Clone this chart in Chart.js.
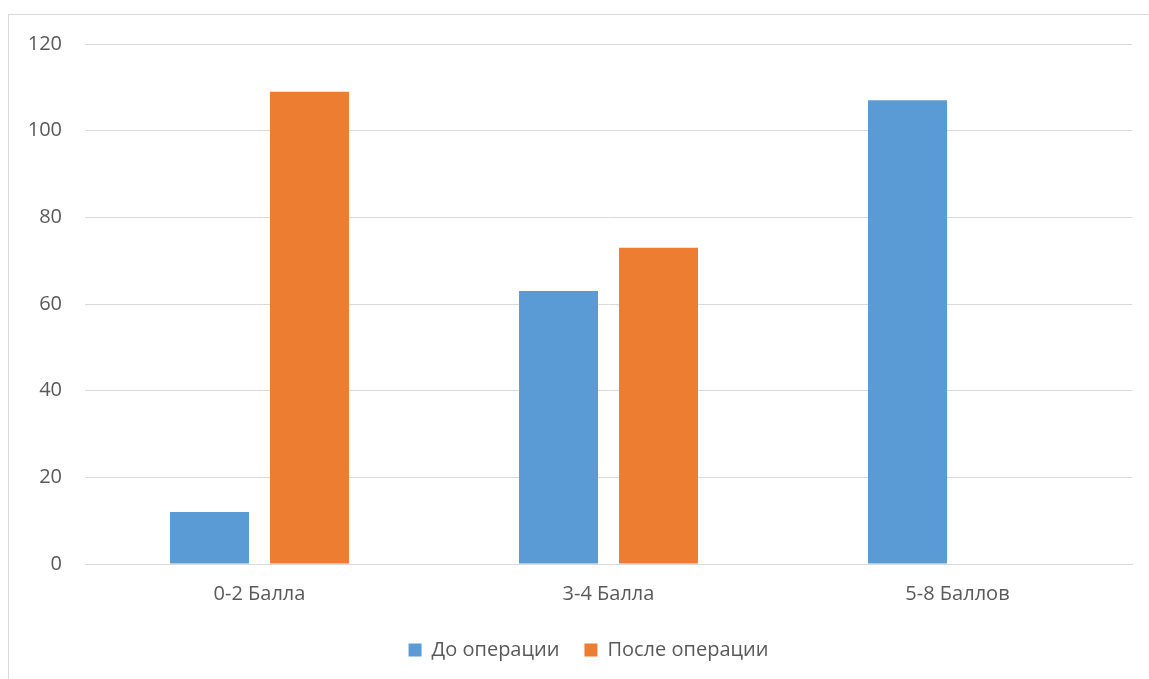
<!DOCTYPE html>
<html>
<head>
<meta charset="utf-8">
<script src="https://cdn.jsdelivr.net/npm/chart.js@4"></script>
<style>
  html, body { margin: 0; padding: 0; background: #fff; overflow: hidden; }
  #frame { position: absolute; left: 8px; top: 14px; width: 1200px; height: 700px; border: 1px solid #d9d9d9; }
  /* canvas is a bit wider than the window so the legend centres where the original does */
  #wrap { position: absolute; left: 0; top: 0; width: 1177px; height: 679px; }
</style>
</head>
<body>
<div id="frame"></div>
<div id="wrap"><canvas id="chart"></canvas></div>
<script>
// categories and series values
const categories = ['0-2 Балла', '3-4 Балла', '5-8 Баллов'];
const beforeSurgery = [12, 63, 107];
const afterSurgery = [109, 73, 0];
const seriesNames = ['До операции', 'После операции'];
const yTicks = [0, 20, 40, 60, 80, 100, 120];

const textColor = '#595959';
const gridColor = '#d9d9d9';
const font = { family: '"Open Sans", sans-serif', size: 20 };

new Chart(document.getElementById('chart'), {
  type: 'bar',
  data: {
    labels: categories,
    datasets: [
      { label: seriesNames[0], data: beforeSurgery, backgroundColor: '#5B9BD5' },
      { label: seriesNames[1], data: afterSurgery, backgroundColor: '#ED7D31' }
    ]
  },
  options: {
    responsive: true,
    maintainAspectRatio: false,
    animation: false,
    categoryPercentage: 0.573,
    barPercentage: 0.79,
    layout: { padding: { left: 0, right: 0, top: 44, bottom: 9 } },
    scales: {
      x: {
        grid: { display: false, drawTicks: false },
        border: { color: gridColor },
        ticks: { color: textColor, font: font, padding: 18 },
        afterFit: function(scale) { scale.height = 51; }
      },
      y: {
        min: yTicks[0],
        max: yTicks[yTicks.length - 1],
        ticks: { stepSize: 20, color: textColor, font: font, padding: 23 },
        grid: { color: gridColor, drawTicks: false },
        border: { display: false },
        afterFit: function(scale) { scale.width = 85; }
      },
      // empty right-hand spacer so the plot ends where the original does
      spacer: {
        position: 'right',
        grid: { display: false, drawTicks: false },
        border: { display: false },
        ticks: { display: false },
        afterFit: function(scale) { scale.width = 45; }
      }
    },
    plugins: {
      legend: {
        position: 'bottom',
        labels: { boxWidth: 13, boxHeight: 13, padding: 25, color: textColor, font: font }
      },
      tooltip: { enabled: false }
    }
  }
});
</script>
</body>
</html>
